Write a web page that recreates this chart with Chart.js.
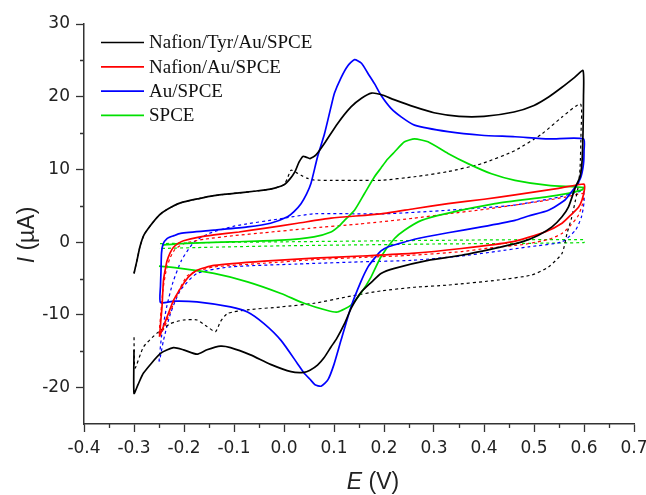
<!DOCTYPE html>
<html>
<head>
<meta charset="utf-8">
<title>Cyclic voltammograms</title>
<script src="https://cdn.jsdelivr.net/npm/chart.js@4.4.1/dist/chart.umd.min.js"></script>
<style>
  html, body { margin: 0; padding: 0; background: #fff; }
  #wrap { width: 646px; height: 495px; }
</style>
</head>
<body>
<div id="wrap"><canvas id="cvChart" width="646" height="495"></canvas></div>
<script>
// Potential E (V) / current I (uA) pairs, each loop in scan order
const tyrSolid = [
  [-0.300, -4.3], [-0.294, -2.5], [-0.288, -0.6], [-0.280, 1.0], [-0.267, 2.3], [-0.250, 3.7],
  [-0.234, 4.5], [-0.207, 5.4], [-0.170, 6.0], [-0.140, 6.4], [-0.100, 6.7], [-0.060, 7.0],
  [-0.027, 7.3], [0.000, 7.9], [0.012, 8.7], [0.022, 9.7], [0.030, 11.0], [0.038, 11.8],
  [0.044, 11.7], [0.052, 11.5], [0.064, 12.0], [0.081, 13.6], [0.107, 16.3], [0.134, 18.6],
  [0.155, 19.8], [0.175, 20.5], [0.194, 20.3], [0.220, 19.6], [0.261, 18.6], [0.300, 17.8],
  [0.350, 17.3], [0.400, 17.3], [0.460, 17.9], [0.500, 18.8], [0.530, 20.0], [0.556, 21.3],
  [0.580, 22.6], [0.598, 23.6], [0.599, 20.0], [0.598, 15.0], [0.596, 11.0], [0.592, 9.0],
  [0.583, 7.6], [0.569, 4.85], [0.556, 3.5], [0.536, 2.1], [0.509, 0.96], [0.476, 0.04],
  [0.435, -0.64], [0.355, -1.8], [0.288, -2.5], [0.221, -3.6], [0.194, -4.3], [0.175, -5.5],
  [0.154, -6.9], [0.135, -9.0], [0.121, -11.2], [0.105, -13.3], [0.094, -14.4], [0.080, -15.9],
  [0.067, -16.9], [0.052, -17.6], [0.040, -17.9], [0.014, -17.8], [-0.027, -16.8], [-0.067, -15.5],
  [-0.107, -14.5], [-0.127, -14.3], [-0.154, -14.8], [-0.174, -15.4], [-0.201, -14.8], [-0.221, -14.5],
  [-0.247, -15.3], [-0.281, -18.0], [-0.292, -19.6], [-0.300, -20.8], [-0.300, -14.8]
];
const tyrBlank = [
  [-0.300, -4.3], [-0.294, -2.5], [-0.288, -0.6], [-0.280, 1.0], [-0.267, 2.3], [-0.250, 3.7],
  [-0.234, 4.5], [-0.207, 5.4], [-0.170, 6.0], [-0.140, 6.4], [-0.100, 6.7], [-0.060, 7.0],
  [-0.027, 7.3], [0.000, 7.9], [0.008, 9.0], [0.014, 9.9], [0.024, 9.6], [0.034, 9.2],
  [0.046, 8.8], [0.060, 8.55], [0.094, 8.5], [0.150, 8.5], [0.194, 8.5], [0.261, 9.0],
  [0.328, 9.7], [0.395, 10.8], [0.462, 12.6], [0.516, 14.9], [0.556, 17.2], [0.593, 19.0],
  [0.594, 15.0], [0.592, 10.0], [0.588, 7.5], [0.583, 5.8], [0.575, 3.3], [0.566, 1.2],
  [0.556, -1.55], [0.529, -3.4], [0.496, -4.5], [0.429, -5.2], [0.328, -5.9], [0.261, -6.2],
  [0.194, -6.7], [0.127, -7.5], [0.060, -8.4], [-0.006, -8.9], [-0.073, -9.3], [-0.113, -9.8],
  [-0.127, -10.9], [-0.137, -12.3], [-0.154, -11.6], [-0.174, -10.7], [-0.201, -10.7], [-0.227, -11.2],
  [-0.254, -12.5], [-0.281, -14.4], [-0.298, -17.3], [-0.300, -12.8]
];
const nafSolid = [
  [-0.249, -13.0], [-0.246, -10.5], [-0.244, -8.9], [-0.241, -5.2], [-0.237, -3.6], [-0.234, -2.6],
  [-0.228, -1.5], [-0.221, -0.7], [-0.210, -0.1], [-0.201, 0.2], [-0.170, 0.7], [-0.140, 1.0],
  [-0.090, 1.4], [-0.040, 1.9], [0.027, 2.6], [0.094, 3.3], [0.194, 3.9], [0.260, 4.6],
  [0.328, 5.3], [0.400, 5.9], [0.462, 6.5], [0.549, 7.4], [0.600, 8.0], [0.601, 7.3],
  [0.596, 5.8], [0.589, 4.8], [0.576, 3.9], [0.556, 2.6], [0.522, 1.4], [0.455, 0.04],
  [0.355, -0.87], [0.255, -1.55], [0.154, -1.9], [0.060, -2.2], [-0.040, -2.6], [-0.140, -3.2],
  [-0.174, -3.85], [-0.190, -4.7], [-0.201, -5.7], [-0.211, -6.8], [-0.221, -8.0], [-0.234, -10.3],
  [-0.244, -12.1], [-0.249, -13.0]
];
const nafBlank = [
  [-0.250, -12.6], [-0.246, -9.5], [-0.242, -6.5], [-0.236, -4.0], [-0.228, -2.2], [-0.218, -1.0],
  [-0.200, -0.2], [-0.160, 0.4], [-0.100, 0.9], [-0.040, 1.3], [0.050, 1.9], [0.150, 2.5],
  [0.194, 2.8], [0.260, 3.3], [0.328, 3.9], [0.400, 4.5], [0.462, 5.1], [0.520, 5.7],
  [0.563, 6.2], [0.598, 6.7], [0.599, 6.0], [0.596, 5.0], [0.588, 3.6], [0.573, 2.3],
  [0.556, 1.2], [0.530, 0.4], [0.480, -0.3], [0.410, -0.8], [0.355, -1.3], [0.255, -1.8],
  [0.154, -2.1], [0.060, -2.4], [-0.040, -2.9], [-0.140, -3.4], [-0.174, -4.0], [-0.193, -4.6],
  [-0.207, -6.2], [-0.220, -8.3], [-0.232, -10.4], [-0.241, -12.0], [-0.250, -12.6]
];
const auSolid = [
  [-0.246, -4.0], [-0.245, -1.5], [-0.242, -0.3], [-0.234, 0.5], [-0.220, 0.9], [-0.207, 1.2],
  [-0.140, 1.65], [-0.073, 2.1], [-0.027, 2.6], [0.007, 3.5], [0.020, 4.2], [0.034, 5.3],
  [0.045, 6.6], [0.054, 8.1], [0.067, 11.7], [0.081, 14.9], [0.094, 18.6], [0.101, 20.5],
  [0.114, 22.6], [0.127, 24.2], [0.141, 25.1], [0.155, 24.6], [0.168, 23.2], [0.181, 21.8],
  [0.194, 20.2], [0.214, 18.4], [0.235, 17.2], [0.261, 16.1], [0.328, 15.2], [0.395, 14.7],
  [0.462, 14.5], [0.529, 14.2], [0.599, 14.2], [0.600, 12.5], [0.599, 10.8], [0.594, 9.0],
  [0.585, 7.8], [0.576, 7.0], [0.562, 5.8], [0.529, 4.4], [0.489, 3.6], [0.462, 3.0],
  [0.395, 2.1], [0.328, 1.3], [0.261, 0.4], [0.230, -0.2], [0.210, -0.6], [0.194, -1.2],
  [0.180, -2.3], [0.168, -3.4], [0.154, -5.4], [0.134, -8.9], [0.114, -13.5], [0.100, -16.8],
  [0.088, -18.9], [0.074, -19.8], [0.062, -19.6], [0.054, -19.0], [0.040, -18.0], [0.027, -16.7],
  [-0.006, -13.5], [-0.040, -11.2], [-0.073, -9.6], [-0.107, -8.9], [-0.174, -8.2], [-0.220, -8.1],
  [-0.247, -8.3], [-0.247, -6.0], [-0.246, -4.0]
];
const auBlank = [
  [-0.250, -16.4], [-0.245, -13.0], [-0.235, -9.0], [-0.222, -5.5], [-0.205, -2.5], [-0.180, 0.0],
  [-0.150, 1.2], [-0.100, 2.2], [0.000, 3.3], [0.060, 3.9], [0.200, 3.9], [0.330, 4.4],
  [0.460, 5.1], [0.550, 6.2], [0.598, 7.0], [0.600, 5.5], [0.595, 3.5], [0.583, 1.65],
  [0.556, 0.04], [0.489, -0.64], [0.422, -1.3], [0.355, -1.9], [0.255, -2.5], [0.154, -2.7],
  [0.027, -3.0], [-0.107, -3.4], [-0.174, -4.3], [-0.207, -6.6], [-0.227, -9.8], [-0.241, -13.5],
  [-0.249, -16.4]
];
const spceSolid = [
  [-0.243, -0.4], [-0.207, -0.2], [-0.107, 0.04], [-0.006, 0.27], [0.060, 0.73], [0.094, 1.4],
  [0.110, 2.2], [0.121, 3.0], [0.141, 4.4], [0.161, 6.7], [0.181, 9.0], [0.194, 10.2],
  [0.207, 11.4], [0.221, 12.4], [0.241, 13.8], [0.261, 14.2], [0.288, 13.8], [0.328, 12.2],
  [0.368, 10.8], [0.415, 9.4], [0.462, 8.5], [0.529, 7.8], [0.600, 7.5], [0.596, 7.2],
  [0.560, 6.6], [0.522, 6.2], [0.422, 5.3], [0.322, 3.9], [0.275, 3.0], [0.241, 1.65],
  [0.221, 0.5], [0.194, -2.0], [0.174, -4.8], [0.154, -7.0], [0.134, -8.65], [0.107, -9.6],
  [0.087, -9.4], [0.040, -8.4], [-0.006, -7.05], [-0.073, -5.45], [-0.140, -4.3], [-0.207, -3.6],
  [-0.250, -3.3]
];
const spceBlank = [
  [-0.248, -0.2], [-0.150, -0.05], [0.000, 0.05], [0.300, 0.25], [0.600, 0.35], [0.600, -0.05],
  [0.300, -0.25], [0.000, -0.5], [-0.150, -0.7], [-0.250, -0.87]
];

const labels = ['Nafion/Tyr/Au/SPCE', 'Nafion/Au/SPCE', 'Au/SPCE', 'SPCE'];
const colors = ['#000000', '#ff0000', '#0000ff', '#00e000'];
const solidLoops = [tyrSolid, nafSolid, auSolid, spceSolid];
const blankLoops = [tyrBlank, nafBlank, auBlank, spceBlank];

const xMajor = [-0.4, -0.3, -0.2, -0.1, 0.0, 0.1, 0.2, 0.3, 0.4, 0.5, 0.6, 0.7];
const xMinor = [-0.35, -0.25, -0.15, -0.05, 0.05, 0.15, 0.25, 0.35, 0.45, 0.55, 0.65];
const yMajor = [-20, -10, 0, 10, 20, 30];
const yMinor = [-15, -5, 5, 15, 25];

const toPoints = loop => loop.map(p => ({ x: p[0], y: p[1] }));

const datasets = [];
solidLoops.forEach((loop, i) => {
  datasets.push({
    label: labels[i],
    data: toPoints(loop),
    borderColor: colors[i],
    borderWidth: 1.7,
    showLine: true,
    pointRadius: 0,
    tension: 0.2,
    isBlank: false
  });
});
blankLoops.forEach((loop, i) => {
  datasets.push({
    label: labels[i] + ' (blank)',
    data: toPoints(loop),
    borderColor: colors[i],
    borderWidth: 1.2,
    borderDash: [3, 3],
    showLine: true,
    pointRadius: 0,
    tension: 0.2,
    isBlank: true
  });
});

const axisColor = '#333';
const tickFont = { family: "'DejaVu Sans', sans-serif", size: 17 };

// minor ticks, inline legend and mixed-style axis titles
const extrasPlugin = {
  id: 'extras',
  afterDraw(chart) {
    const ctx = chart.ctx;
    const xs = chart.scales.x;
    const ys = chart.scales.y;
    const area = chart.chartArea;
    ctx.save();
    ctx.strokeStyle = axisColor;
    ctx.lineWidth = 1.3;
    ctx.beginPath();
    yMinor.forEach(v => {
      const py = Math.round(ys.getPixelForValue(v)) + 0.5;
      ctx.moveTo(area.left - 4, py);
      ctx.lineTo(area.left, py);
    });
    xMinor.forEach(v => {
      const px = Math.round(xs.getPixelForValue(v)) + 0.5;
      ctx.moveTo(px, area.bottom);
      ctx.lineTo(px, area.bottom + 4);
    });
    ctx.stroke();

    // legend
    ctx.font = "19px 'Liberation Serif', 'Times New Roman', serif";
    ctx.textBaseline = 'middle';
    ctx.fillStyle = '#111';
    chart.data.datasets.filter(d => !d.isBlank).forEach((d, i) => {
      const rowY = 42.5 + i * 24.3;
      ctx.strokeStyle = d.borderColor;
      ctx.lineWidth = 1.7;
      ctx.beginPath();
      ctx.moveTo(101, rowY);
      ctx.lineTo(144, rowY);
      ctx.stroke();
      ctx.fillText(d.label, 149, rowY + 1);
    });

    // axis titles
    ctx.fillStyle = '#222';
    ctx.textBaseline = 'alphabetic';
    const italic = "italic 23px 'Liberation Sans', Arial, sans-serif";
    const upright = "23px 'Liberation Sans', Arial, sans-serif";
    const drawTitle = (lead, rest, x, y) => {
      ctx.font = italic;
      const w1 = ctx.measureText(lead).width;
      ctx.font = upright;
      const w2 = ctx.measureText(rest).width;
      const start = x - (w1 + w2) / 2;
      ctx.font = italic;
      ctx.fillText(lead, start, y);
      ctx.font = upright;
      ctx.fillText(rest, start + w1, y);
    };
    drawTitle('E', ' (V)', 373, 489);
    ctx.translate(34, 235);
    ctx.rotate(-Math.PI / 2);
    drawTitle('I', ' (µA)', 0, 0);
    ctx.restore();
  }
};

new Chart(document.getElementById('cvChart'), {
  type: 'scatter',
  data: { datasets },
  options: {
    responsive: false,
    animation: false,
    layout: { padding: { top: 24, right: 12, left: 0, bottom: 0 } },
    plugins: {
      legend: { display: false },
      tooltip: { enabled: false }
    },
    scales: {
      x: {
        type: 'linear',
        min: -0.4,
        max: 0.7,
        afterBuildTicks: scale => { scale.ticks = xMajor.map(v => ({ value: v })); },
        afterFit: scale => { scale.height = 71; scale.paddingLeft = 0; scale.paddingRight = 0; },
        border: { display: true, color: axisColor, width: 1.5 },
        grid: { drawOnChartArea: false, drawTicks: true, tickLength: 8, tickColor: axisColor, tickWidth: 1.3 },
        ticks: {
          font: tickFont,
          color: '#222',
          padding: 6,
          maxRotation: 0,
          autoSkip: false,
          callback: v => Number(v).toFixed(1)
        }
      },
      y: {
        type: 'linear',
        min: -25,
        max: 30,
        afterBuildTicks: scale => { scale.ticks = yMajor.map(v => ({ value: v })); },
        afterFit: scale => { scale.width = 84; scale.paddingTop = 0; scale.paddingBottom = 0; },
        border: { display: true, color: axisColor, width: 1.5 },
        grid: { drawOnChartArea: false, drawTicks: true, tickLength: 8, tickColor: axisColor, tickWidth: 1.3 },
        ticks: {
          font: tickFont,
          color: '#222',
          padding: 6,
          autoSkip: false,
          callback: v => String(v)
        }
      }
    }
  },
  plugins: [extrasPlugin]
});
</script>
</body>
</html>
